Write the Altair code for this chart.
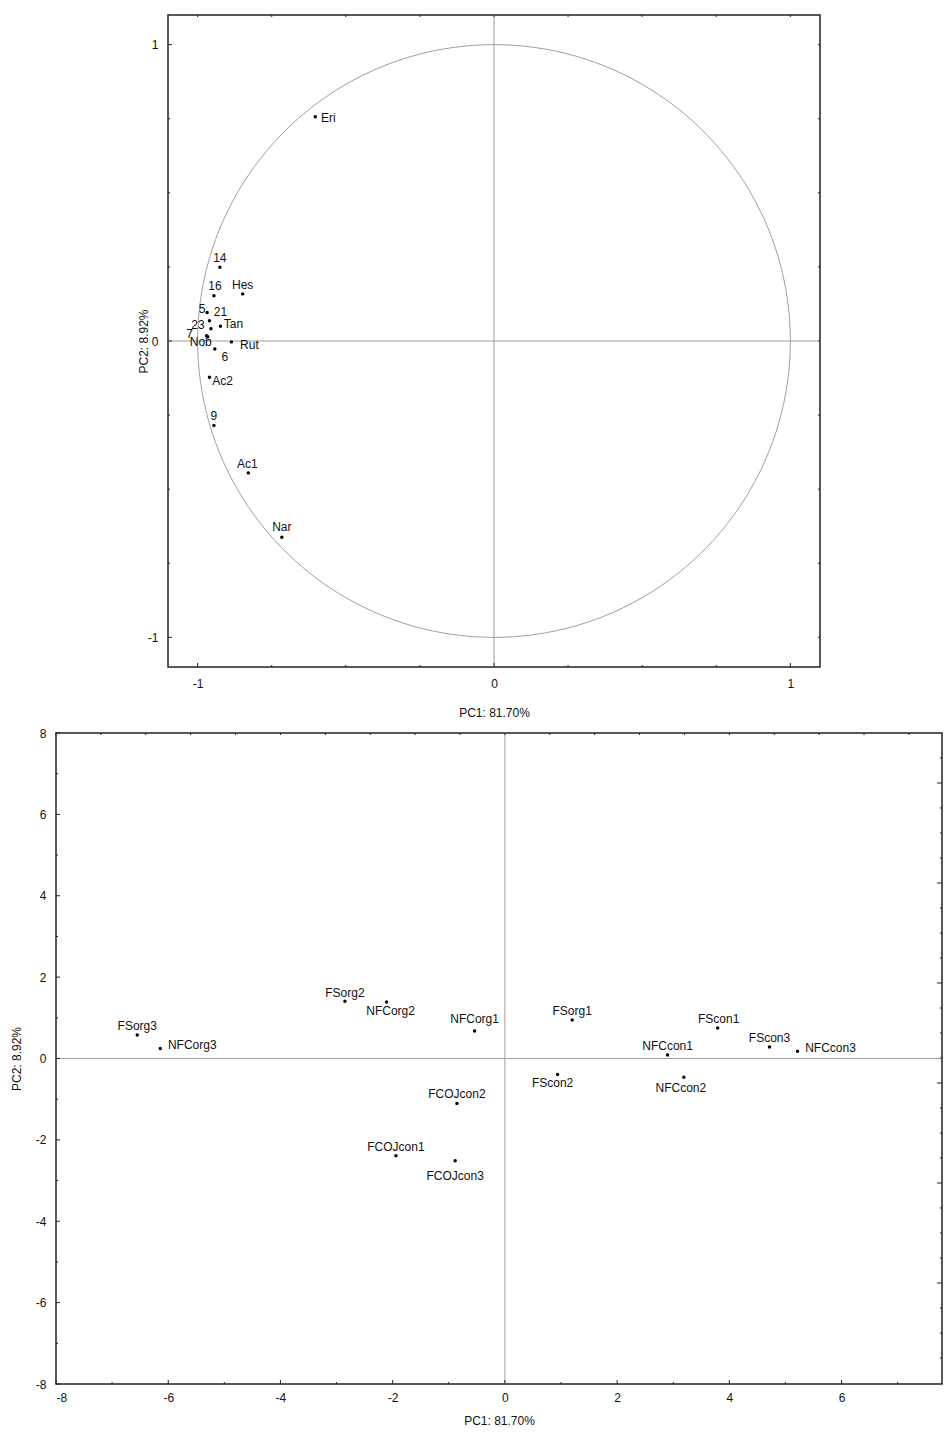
import altair as alt
import pandas as pd

FONT = "Liberation Sans"
INK = "#111111"
BORDER = "#222222"
GREY = "#a0a0a0"

# ---------------- top panel: variable loadings ----------------
load_names = ["Eri", "14", "16", "Hes", "5", "21", "23", "Tan", "7", "Nob",
              "Rut", "6", "Ac2", "9", "Ac1", "Nar"]
load_pc1 = [-0.603, -0.925, -0.945, -0.848, -0.968, -0.960, -0.955, -0.923,
            -0.970, -0.966, -0.886, -0.942, -0.960, -0.945, -0.829, -0.716]
load_pc2 = [0.757, 0.249, 0.153, 0.159, 0.096, 0.068, 0.041, 0.050,
            0.018, 0.014, -0.003, -0.027, -0.122, -0.285, -0.445, -0.662]
# label placement (pixel offsets from the dot), style only
load_dx = [13, 0, 1, 0, -5, 11, -13, 13, -17, -7, 18, 10, 13, 0, -1, 0]
load_dy = [1, -9, -10, -9, -4, -9, -4, -2, -2, 5, 3, 8, 4, -9, -9, -10]

top_ticks_all = [-1, -0.75, -0.5, -0.25, 0, 0.25, 0.5, 0.75, 1]
top_ticks_major = [-1, 0, 1]
top_ticks_minor = [-0.75, -0.5, -0.25, 0.25, 0.5, 0.75]

# ---------------- bottom panel: sample scores ----------------
score_names = ["FSorg3", "NFCorg3", "FSorg2", "NFCorg2", "NFCorg1", "FSorg1",
               "NFCcon1", "FScon1", "FScon2", "NFCcon2", "FScon3", "NFCcon3",
               "FCOJcon2", "FCOJcon1", "FCOJcon3"]
score_pc1 = [-6.552, -6.142, -2.851, -2.108, -0.540, 1.199, 2.899, 3.792,
             0.939, 3.189, 4.716, 5.215, -0.855, -1.942, -0.886]
score_pc2 = [0.580, 0.246, 1.407, 1.390, 0.678, 0.948, 0.088, 0.749,
             -0.393, -0.459, 0.285, 0.179, -1.105, -2.392, -2.515]
score_dx = [0, 32, 0, 4, 0, 0, 0, 1, -5, -3, 0, 33, 0, 0, 0]
score_dy = [-9, -3, -8, 9, -12, -9, -9, -9, 9, 11, -9, -3, -9, -9, 15]

# the original figure runs past the right edge of the page: the visible
# part of the x range stops just short of 8
BOT_X_MAX = 7.79
bot_x_major = [-8, -6, -4, -2, 0, 2, 4, 6]
bot_x_minor = [-7, -5, -3, -1, 1, 3, 5, 7]
bot_y_major = [-8, -6, -4, -2, 0, 2, 4, 6, 8]
bot_y_minor = [-7, -5, -3, -1, 1, 3, 5, 7]
bot_top_ticks = [round(-8 + 0.8 * k, 2) for k in range(20)]
bot_right_step = 16 / 26.04
bot_right_minor = [round(8 - k * bot_right_step, 3) for k in range(1, 26) if k % 4 != 2]
bot_right_major = [round(8 - k * bot_right_step, 3) for k in range(1, 26) if k % 4 == 2]

HYPHEN_LABEL = "'' + datum.value"


def tick_layer(values, side, length, xsc, ysc, xax, yax, W, H):
    df = pd.DataFrame({"v": values})
    c = alt.Chart(df).mark_rule(color=BORDER, strokeWidth=1)
    if side == "left":
        return c.encode(y=alt.Y("v:Q", scale=ysc, axis=yax), x=alt.value(0), x2=alt.value(length))
    if side == "right":
        return c.encode(y=alt.Y("v:Q", scale=ysc, axis=yax), x=alt.value(W - length), x2=alt.value(W))
    if side == "bottom":
        return c.encode(x=alt.X("v:Q", scale=xsc, axis=xax), y=alt.value(H - length), y2=alt.value(H))
    return c.encode(x=alt.X("v:Q", scale=xsc, axis=xax), y=alt.value(0), y2=alt.value(length))


def zero_lines(xsc, ysc, xax, yax):
    df = pd.DataFrame({"v": [0]})
    v = alt.Chart(df).mark_rule(color=GREY, strokeWidth=1).encode(x=alt.X("v:Q", scale=xsc, axis=xax))
    h = alt.Chart(df).mark_rule(color=GREY, strokeWidth=1).encode(y=alt.Y("v:Q", scale=ysc, axis=yax))
    return [v, h]


def point_panel(names, xs, ys, dxs, dys, xsc, ysc, xax, yax):
    df = pd.DataFrame({"name": names, "pc1": xs, "pc2": ys})
    pts = alt.Chart(df).mark_circle(size=12, color="#000000", opacity=1).encode(
        x=alt.X("pc1:Q", scale=xsc, axis=xax),
        y=alt.Y("pc2:Q", scale=ysc, axis=yax),
    )
    labels = []
    for n, dx, dy in zip(names, dxs, dys):
        labels.append(
            alt.Chart(df).transform_filter(alt.datum.name == n).mark_text(
                dx=dx, dy=dy, align="center", baseline="middle",
                font=FONT, fontSize=12, color=INK
            ).encode(
                x=alt.X("pc1:Q", scale=xsc, axis=xax),
                y=alt.Y("pc2:Q", scale=ysc, axis=yax),
                text="name:N",
            )
        )
    return [pts] + labels


# ---------- top chart ----------
TW, TH = 652, 652
xs_t = alt.Scale(domain=[-1.1, 1.1], nice=False, zero=False)
ys_t = alt.Scale(domain=[-1.1, 1.1], nice=False, zero=False)

x_axis_t = alt.Axis(values=top_ticks_major, ticks=False, domain=False, grid=False,
                    labelPadding=11, title="PC1: 81.70%", titlePadding=18,
                    labelExpr=HYPHEN_LABEL)
y_axis_t = alt.Axis(values=top_ticks_major, ticks=False, domain=False, grid=False,
                    labelPadding=10, title="PC2: 8.92%", titleX=-18,
                    labelExpr=HYPHEN_LABEL)

circle = alt.Chart(alt.sequence(0, 361, 2, as_="t")).transform_calculate(
    cx="cos(datum.t * PI / 180)", cy="sin(datum.t * PI / 180)"
).mark_line(color=GREY, strokeWidth=1).encode(
    x=alt.X("cx:Q", scale=xs_t, axis=x_axis_t),
    y=alt.Y("cy:Q", scale=ys_t, axis=y_axis_t),
    order="t:Q",
)

top_layers = zero_lines(xs_t, ys_t, x_axis_t, y_axis_t) + [circle]
top_layers += [
    tick_layer(top_ticks_major, "left", 4, xs_t, ys_t, x_axis_t, y_axis_t, TW, TH),
    tick_layer(top_ticks_minor, "left", 2, xs_t, ys_t, x_axis_t, y_axis_t, TW, TH),
    tick_layer(top_ticks_major, "bottom", 4, xs_t, ys_t, x_axis_t, y_axis_t, TW, TH),
    tick_layer(top_ticks_minor, "bottom", 2, xs_t, ys_t, x_axis_t, y_axis_t, TW, TH),
    tick_layer(top_ticks_all, "top", 2, xs_t, ys_t, x_axis_t, y_axis_t, TW, TH),
    tick_layer(top_ticks_all, "right", 2, xs_t, ys_t, x_axis_t, y_axis_t, TW, TH),
]
top_layers += point_panel(load_names, load_pc1, load_pc2, load_dx, load_dy,
                          xs_t, ys_t, x_axis_t, y_axis_t)
top = alt.layer(*top_layers).properties(width=TW, height=TH)

# ---------- bottom chart ----------
BW, BH = 886, 651
xs_b = alt.Scale(domain=[-8, BOT_X_MAX], nice=False, zero=False)
ys_b = alt.Scale(domain=[-8, 8], nice=False, zero=False)

x_axis_b = alt.Axis(values=bot_x_major, ticks=False, domain=False, grid=False,
                    labelPadding=8, title="PC1: 81.70%", titlePadding=12,
                    labelExpr=HYPHEN_LABEL)
y_axis_b = alt.Axis(values=bot_y_major, ticks=False, domain=False, grid=False,
                    labelPadding=10, title="PC2: 8.92%", titlePadding=12,
                    labelExpr=HYPHEN_LABEL)

bot_layers = zero_lines(xs_b, ys_b, x_axis_b, y_axis_b)
bot_layers += [
    tick_layer(bot_y_major, "left", 4, xs_b, ys_b, x_axis_b, y_axis_b, BW, BH),
    tick_layer(bot_y_minor, "left", 2, xs_b, ys_b, x_axis_b, y_axis_b, BW, BH),
    tick_layer(bot_x_major, "bottom", 4, xs_b, ys_b, x_axis_b, y_axis_b, BW, BH),
    tick_layer(bot_x_minor, "bottom", 2, xs_b, ys_b, x_axis_b, y_axis_b, BW, BH),
    tick_layer(bot_top_ticks, "top", 2, xs_b, ys_b, x_axis_b, y_axis_b, BW, BH),
    tick_layer(bot_right_major, "right", 5, xs_b, ys_b, x_axis_b, y_axis_b, BW, BH),
    tick_layer(bot_right_minor, "right", 2, xs_b, ys_b, x_axis_b, y_axis_b, BW, BH),
]
bot_layers += point_panel(score_names, score_pc1, score_pc2, score_dx, score_dy,
                          xs_b, ys_b, x_axis_b, y_axis_b)
bottom = alt.layer(*bot_layers).properties(width=BW, height=BH)

spacer = alt.Chart(pd.DataFrame({"a": [0]})).mark_point(opacity=0, size=1).encode(
    x=alt.value(5), y=alt.value(5)
).properties(width=79, height=10, view=alt.ViewBackground(stroke="transparent"))

chart = alt.vconcat(
    alt.hconcat(spacer, top, spacing=0),
    bottom,
    spacing=7,
    padding={"left": 1, "top": 5, "right": 0, "bottom": 0},
).configure_view(
    stroke=BORDER, strokeWidth=1.5
).configure_axis(
    labelFont=FONT, titleFont=FONT, labelFontSize=12, titleFontSize=12,
    titleFontWeight="normal", labelColor=INK, titleColor=INK
)

chart.save("out.html", embed_options={"renderer": "svg", "actions": False})
